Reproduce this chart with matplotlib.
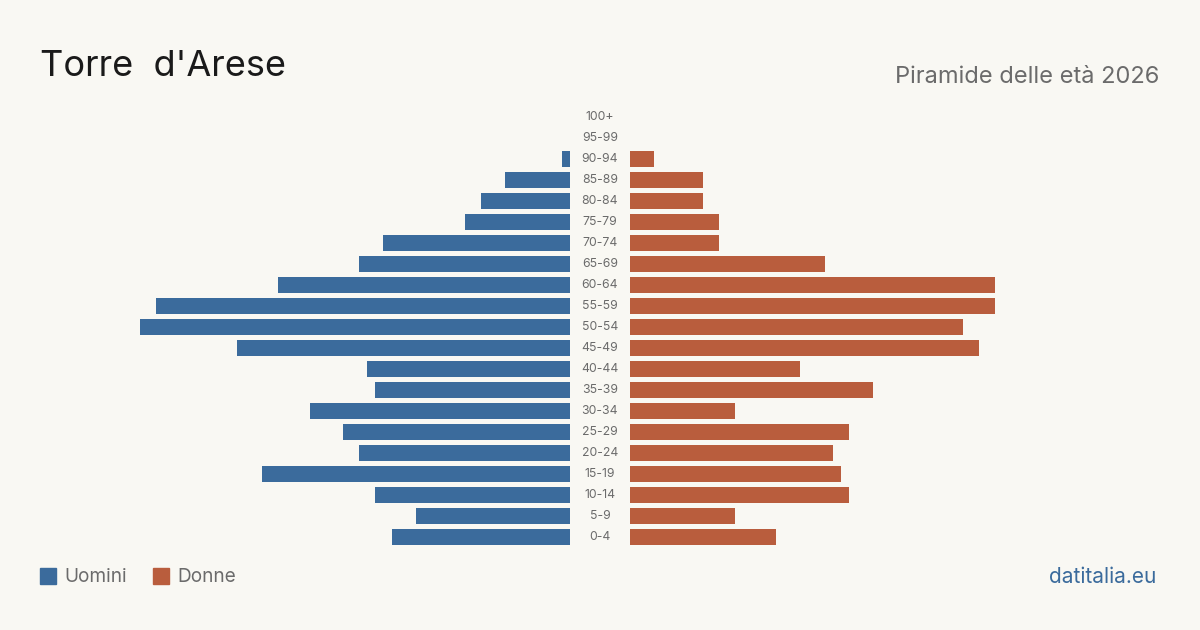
import matplotlib
matplotlib.use("Agg")
import matplotlib.pyplot as plt
from matplotlib.patches import Rectangle

ages = ["0-4", "5-9", "10-14", "15-19", "20-24", "25-29", "30-34", "35-39",
        "40-44", "45-49", "50-54", "55-59", "60-64", "65-69", "70-74",
        "75-79", "80-84", "85-89", "90-94", "95-99", "100+"]
men = [22, 19, 24, 38, 26, 28, 32, 24, 25, 41, 53, 51, 36, 26, 23, 13, 11, 8, 1, 0, 0]
women = [18, 13, 27, 26, 25, 27, 13, 30, 21, 43, 41, 45, 45, 24, 11, 11, 9, 9, 3, 0, 0]

title = "Torre  d'Arese"
subtitle = "Piramide delle età 2026"
legend_labels = ["Uomini", "Donne"]
source = "datitalia.eu"

BG = "#f9f8f3"
BLUE = "#3b6b9c"
ORANGE = "#b95d3d"
GRAY = "#6b6b6b"
FONT = ["Inter", "DejaVu Sans"]

W, H = 1200, 630
fig = plt.figure(figsize=(12, 6.3), dpi=100, facecolor=BG)

vmax = max(max(men), max(women))
span = 430  # px for max value
top_px, bot_px = 106.5, 547.5

def ax_rect(x0, x1):
    return [x0 / W, (H - bot_px) / H, (x1 - x0) / W, (bot_px - top_px) / H]

axL = fig.add_axes(ax_rect(570 - span, 570))
axR = fig.add_axes(ax_rect(630, 630 + span))
axC = fig.add_axes(ax_rect(570, 630))

ypos = list(range(len(ages)))
axL.barh(ypos, men, height=0.8, color=BLUE)
axR.barh(ypos, women, height=0.8, color=ORANGE)
axL.set_xlim(vmax, 0)
axR.set_xlim(0, vmax)
for ax in (axL, axR, axC):
    ax.set_ylim(-0.5, len(ages) - 0.5)
    ax.set_facecolor("none")
    ax.axis("off")
axC.set_xlim(0, 1)
for i, a in enumerate(ages):
    axC.text(0.5, i, a, ha="center", va="center", fontsize=8.8,
             color=GRAY, family=FONT)

fig.text(40 / W, 1 - 67 / H, title, ha="left", va="center", fontsize=26,
         color="#1a1a1a", family=FONT)
fig.text(1159 / W, 1 - 77 / H, subtitle, ha="right", va="center", fontsize=17,
         color=GRAY, family=FONT)

# legend
for x0, col, lab in [(40, BLUE, legend_labels[0]), (153, ORANGE, legend_labels[1])]:
    fig.patches.append(Rectangle((x0 / W, 1 - 584 / H), 16 / W, 16 / H,
                                 transform=fig.transFigure, color=col))
    fig.text((x0 + 24) / W, 1 - 577 / H, lab, ha="left", va="center",
             fontsize=13.7, color=GRAY, family=FONT)

fig.text(1156 / W, 1 - 577 / H, source, ha="right", va="center", fontsize=15,
         color=BLUE, family=FONT)

fig.savefig("out.png", dpi=100, facecolor=BG)
